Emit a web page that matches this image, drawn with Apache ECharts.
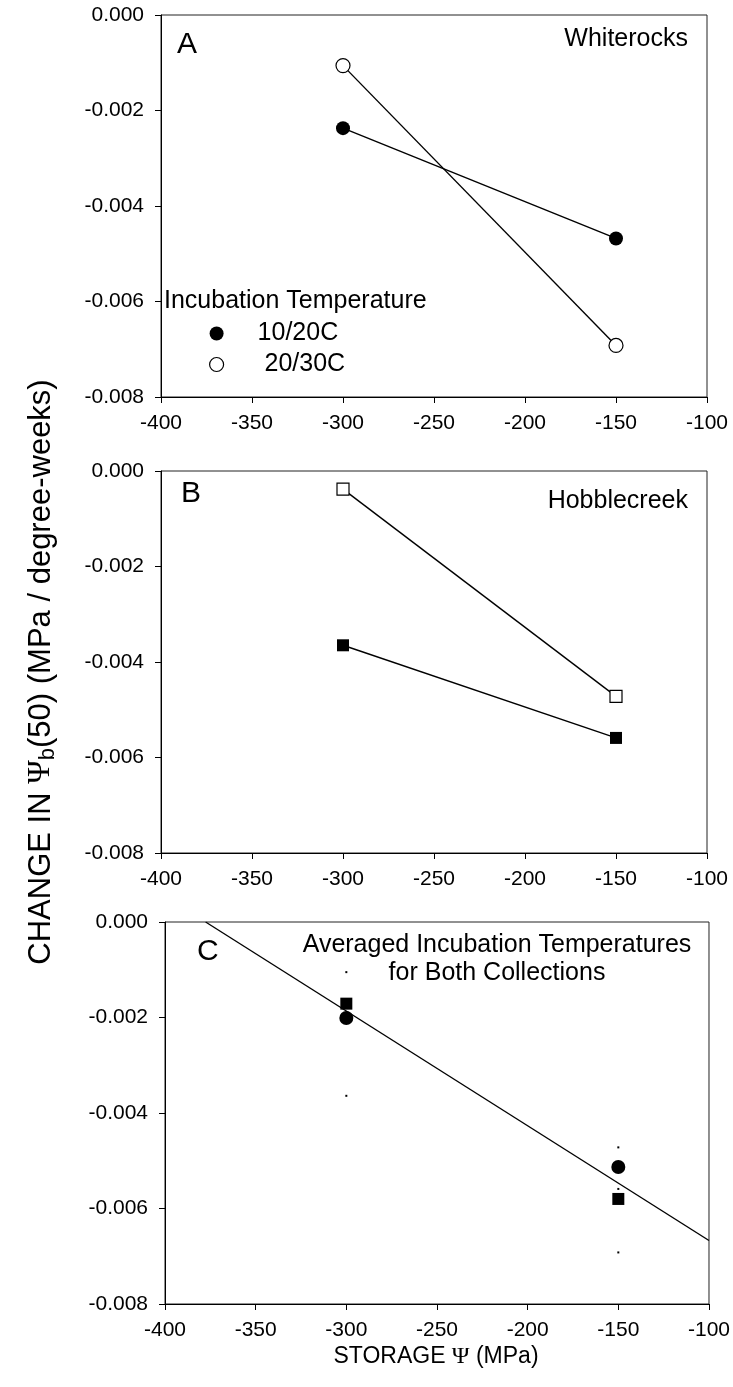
<!DOCTYPE html>
<html><head><meta charset="utf-8">
<script src="https://cdn.jsdelivr.net/npm/echarts@6/dist/echarts.min.js"></script>
<style>html,body{margin:0;padding:0;background:#fff}#c{width:733px;height:1387px}</style>
</head><body><div id="c"></div>
<script>
// ---- data ----
const storagePsi = [-300, -150];
// Panel A: Whiterocks
const whiterocks1020 = [-0.00237, -0.00468];
const whiterocks2030 = [-0.00106, -0.00692];
// Panel B: Hobblecreek
const hobble1020 = [-0.00365, -0.00559];
const hobble2030 = [-0.00038, -0.00472];
// Panel C: averaged incubation temperatures
const avgCircle = [-0.00201, -0.00513];
const avgSquare = [-0.00171, -0.00580];
const fitX = [-377.6, -100];
const fitY = [0, -0.00667];
const capX = [-300, -300, -150, -150, -150];
const capY = [-0.00105, -0.00364, -0.00472, -0.00559, -0.00692];
const xMin = -400, xMax = -100, xStep = 50;
const yMin = -0.008, yMax = 0, yStep = 0.002;

const FONT = 'Liberation Sans, Arial, sans-serif';
const SERIF = 'Liberation Serif, Times New Roman, serif';
const pair = (xs, ys) => xs.map((x, i) => [x, ys[i]]);

const grids = [
  {left: 161, top: 15, width: 546, height: 382},
  {left: 161, top: 471, width: 546, height: 382},
  {left: 165, top: 922, width: 545, height: 382}
].map(g => Object.assign({show: true, borderColor: '#222', borderWidth: 1, backgroundColor: 'transparent'}, g));

const axisCommon = {
  axisLine: {show: true, onZero: false, lineStyle: {color: '#000', width: 1}},
  axisTick: {show: true, inside: false, length: 6, lineStyle: {color: '#000'}},
  splitLine: {show: false}
};
const xAxes = [0, 1, 2].map(i => Object.assign({}, axisCommon, {
  type: 'value', gridIndex: i, min: xMin, max: xMax, interval: xStep,
  axisLabel: {color: '#000', fontSize: 21, fontFamily: FONT, margin: 16}
}));
const yAxes = [0, 1, 2].map(i => Object.assign({}, axisCommon, {
  type: 'value', gridIndex: i, min: yMin, max: yMax, interval: yStep,
  axisLabel: {color: '#000', fontSize: 21, fontFamily: FONT, margin: 17,
    formatter: v => (Math.abs(v) < 1e-12 ? 0 : v).toFixed(3)}
}));

const lineSt = {color: '#000', width: 1.4};
const filled = {color: '#000', opacity: 1};
const open = {color: '#fff', borderColor: '#000', borderWidth: 1.2, opacity: 1};

const series = [
  {name: '10/20C', type: 'line', xAxisIndex: 0, yAxisIndex: 0, data: pair(storagePsi, whiterocks1020),
   symbol: 'circle', symbolSize: 14, itemStyle: filled, lineStyle: lineSt, z: 3},
  {name: '20/30C', type: 'line', xAxisIndex: 0, yAxisIndex: 0, data: pair(storagePsi, whiterocks2030),
   symbol: 'circle', symbolSize: 14, itemStyle: open, lineStyle: lineSt, z: 3},
  {name: 'H 10/20C', type: 'line', xAxisIndex: 1, yAxisIndex: 1, data: pair(storagePsi, hobble1020),
   symbol: 'rect', symbolSize: 12, itemStyle: filled, lineStyle: lineSt, z: 3},
  {name: 'H 20/30C', type: 'line', xAxisIndex: 1, yAxisIndex: 1, data: pair(storagePsi, hobble2030),
   symbol: 'rect', symbolSize: 12, itemStyle: open, lineStyle: lineSt, z: 3},
  {name: 'fit', type: 'line', xAxisIndex: 2, yAxisIndex: 2, data: pair(fitX, fitY),
   symbol: 'none', lineStyle: lineSt, z: 2},
  {name: 'caps', type: 'scatter', xAxisIndex: 2, yAxisIndex: 2, data: pair(capX, capY),
   symbol: 'rect', symbolSize: 2, itemStyle: {color: '#000', opacity: 1}, z: 3},
  {name: 'avg circle', type: 'scatter', xAxisIndex: 2, yAxisIndex: 2, data: pair(storagePsi, avgCircle),
   symbol: 'circle', symbolSize: 14, itemStyle: filled, z: 4},
  {name: 'avg square', type: 'scatter', xAxisIndex: 2, yAxisIndex: 2, data: pair(storagePsi, avgSquare),
   symbol: 'rect', symbolSize: 12, itemStyle: filled, z: 4}
];

const txt = (x, y, text, size, align, extra) => ({
  type: 'text', x: x, y: y, z: 10,
  style: Object.assign({text: text, fontSize: size, fontFamily: FONT, fill: '#000',
    align: align || 'left', verticalAlign: 'middle'}, extra || {})
});

const option = {
  animation: false,
  backgroundColor: '#fff',
  grid: grids,
  xAxis: xAxes,
  yAxis: yAxes,
  legend: {
    data: [
      {name: '10/20C', icon: 'circle', itemStyle: {color: '#000', borderWidth: 0}},
      {name: '20/30C', icon: 'circle', itemStyle: {color: '#fff', borderColor: '#000', borderWidth: 1.2}}
    ],
    orient: 'vertical', left: 204, top: 316, itemWidth: 14, itemHeight: 14, itemGap: 6,
    formatter: n => n === '20/30C' ? ' 20/30C' : n,
    textStyle: {fontSize: 25, fontFamily: FONT, color: '#000', padding: [0, 0, 0, 29]},
    selectedMode: false
  },
  graphic: [
    txt(177, 45, 'A', 30),
    txt(181, 494, 'B', 30),
    txt(197, 952, 'C', 30),
    txt(688, 39, 'Whiterocks', 25, 'right'),
    txt(688, 501, 'Hobblecreek', 25, 'right'),
    txt(497, 945, 'Averaged Incubation Temperatures', 25, 'center'),
    txt(497, 973, 'for Both Collections', 25, 'center'),
    txt(164, 301, 'Incubation Temperature', 25, 'left'),
    {type: 'text', x: 436, y: 1357, z: 10,
     style: {text: 'STORAGE {p|\u03A8} (MPa)', fontSize: 23, fontFamily: FONT, fill: '#000',
       align: 'center', verticalAlign: 'middle',
       rich: {p: {fontSize: 24, fontFamily: SERIF, fill: '#000'}}}},
    {type: 'text', x: 41, y: 672, rotation: Math.PI / 2, z: 10,
     style: {text: 'CHANGE IN {p|\u03A8}{s|b}(50) (MPa / degree-weeks)', fontSize: 31, fontFamily: FONT, fill: '#000',
       align: 'center', verticalAlign: 'middle',
       rich: {
         p: {fontSize: 32, fontFamily: SERIF, fill: '#000'},
         s: {fontSize: 22, fontFamily: FONT, fill: '#000', padding: [14, 0, 0, 0]}
       }}}
  ],
  series: series
};
const chart = echarts.init(document.getElementById('c'), null, {renderer: 'canvas'});
chart.setOption(option);
</script></body></html>
